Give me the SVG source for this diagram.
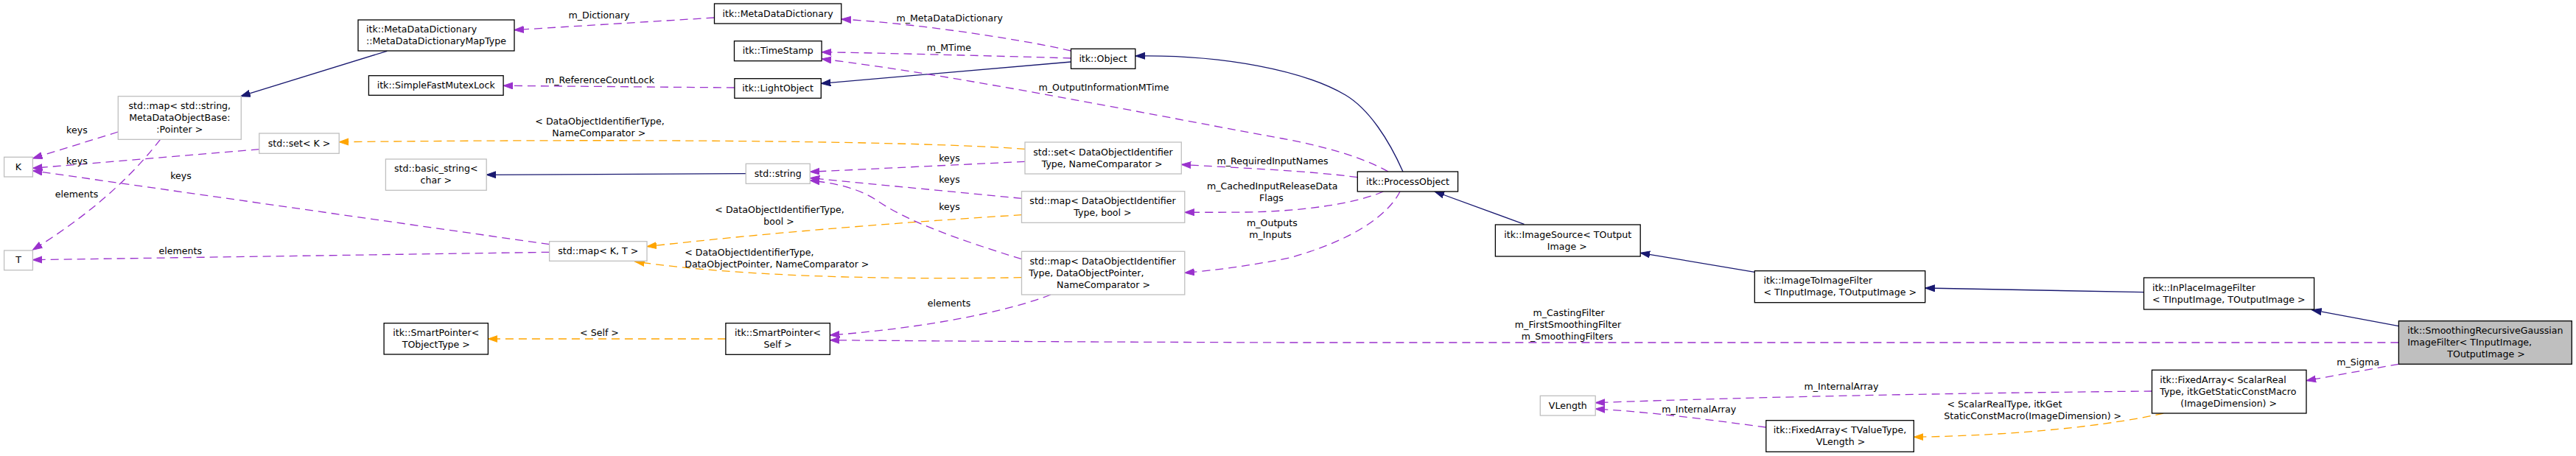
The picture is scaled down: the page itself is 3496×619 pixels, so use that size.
<svg xmlns="http://www.w3.org/2000/svg" width="3496" height="619" viewBox="0 0 3496 619">
<style>
text{font-family:"DejaVu Sans","Liberation Sans",sans-serif;font-size:12.6px;fill:#000}
.m{text-anchor:middle}
.s{text-anchor:start}
.doc{fill:#fff;stroke:#000;stroke-width:1.3}
.und{fill:#fff;stroke:#bfbfbf;stroke-width:1.3}
.cur{fill:#bfbfbf;stroke:#000;stroke-width:1.3}
.inh{fill:none;stroke:#191970;stroke-width:1.3;marker-end:url(#an)}
.use{fill:none;stroke:#9a32cd;stroke-width:1.3;stroke-dasharray:11,7;marker-end:url(#ap)}
.tpl{fill:none;stroke:#ffa500;stroke-width:1.3;stroke-dasharray:11,7;marker-end:url(#ao)}
</style>
<defs>
<marker id="an" markerUnits="userSpaceOnUse" markerWidth="16" markerHeight="12" refX="13" refY="5" orient="auto"><path d="M0,0.5 L13,5 L0,9.5 z" fill="#191970" stroke="#191970" stroke-width="1"/></marker>
<marker id="ap" markerUnits="userSpaceOnUse" markerWidth="16" markerHeight="12" refX="13" refY="5" orient="auto"><path d="M0,0.5 L13,5 L0,9.5 z" fill="#9a32cd" stroke="#9a32cd" stroke-width="1"/></marker>
<marker id="ao" markerUnits="userSpaceOnUse" markerWidth="16" markerHeight="12" refX="13" refY="5" orient="auto"><path d="M0,0.5 L13,5 L0,9.5 z" fill="#ffa500" stroke="#ffa500" stroke-width="1"/></marker>
</defs>
<rect width="3496" height="619" fill="#fff"/>
<g id="connectors">
<path class="inh" d="M525.3,69.3 L326.6,130.7"/>
<path class="inh" d="M1453.5,84 L1114.3,113.3"/>
<path class="inh" d="M1904,233 C1885,190 1858,148 1826,129 C1770,96 1660,74 1541,76"/>
<path class="inh" d="M2068.5,304.3 L1947,260"/>
<path class="inh" d="M2381.3,369.3 L2226.2,343.3"/>
<path class="inh" d="M2909.5,396.7 L2612.7,391"/>
<path class="inh" d="M3255.4,442.7 L3137.6,420.7"/>
<path class="inh" d="M1012.3,235.7 L660.2,237.3"/>

<path class="use" d="M969.5,24 L697.8,40.7"/>
<text class="m" x="813" y="25.2">m_Dictionary</text>
<path class="use" d="M1453.5,69 C1400,56 1250,32 1141.8,26"/>
<text class="m" x="1288.7" y="29.2">m_MetaDataDictionary</text>
<path class="use" d="M1453.5,79 C1350,76 1200,72 1115.1,70.7"/>
<text class="m" x="1287.8" y="69.2">m_MTime</text>
<path class="use" d="M1884,233 C1850,214 1800,199 1740,188 C1600,163 1300,102 1115.1,80"/>
<text class="m" x="1498" y="123.2">m_OutputInformationMTime</text>
<path class="use" d="M996.9,119 L683.1,116.3"/>
<text class="m" x="814" y="112.8">m_ReferenceCountLock</text>
<path class="use" d="M160.3,179 L44.4,215"/>
<text class="m" x="104.4" y="181.2">keys</text>
<path class="use" d="M351.8,202.7 L44.4,228.3"/>
<text class="m" x="104.4" y="223.2">keys</text>
<path class="use" d="M745.6,331.7 L44.4,231.7"/>
<text class="m" x="245.5" y="243.2">keys</text>
<path class="use" d="M217.5,189.3 C190,225 140,280 44.4,339.3"/>
<text class="m" x="104" y="267.8">elements</text>
<path class="use" d="M745.6,342.3 L44.4,352.7"/>
<text class="m" x="244.8" y="344.8">elements</text>
<path class="tpl" d="M1386.5,291.7 C1250,300 1050,315 878,334.7"/>
<text class="m" x="1058" y="289.2">&lt; DataObjectIdentifierType,</text>
<text class="m" x="1057" y="304.8">bool &gt;</text>
<path class="tpl" d="M1386.5,376.7 C1200,380 1000,375 861.5,355"/>
<text class="s" x="929.2" y="346.8">&lt; DataObjectIdentifierType,</text>
<text class="s" x="929.2" y="362.8">DataObjectPointer, NameComparator &gt;</text>
<path class="tpl" d="M1391,202.3 C1250,192 900,188 460.2,192.7"/>
<text class="m" x="814" y="169.2">&lt; DataObjectIdentifierType,</text>
<text class="m" x="812.8" y="185.2">NameComparator &gt;</text>
<path class="use" d="M1391,219.3 L1099.3,233.3"/>
<text class="m" x="1288.5" y="219.2">keys</text>
<path class="use" d="M1386.5,269.3 L1099.3,241.7"/>
<text class="m" x="1288.5" y="248.2">keys</text>
<path class="use" d="M1386.5,351.7 C1300,325 1230,300 1190,272 C1165,255 1130,248 1099.3,245"/>
<text class="m" x="1288.5" y="285.2">keys</text>
<path class="use" d="M1842.3,240.7 C1780,232 1680,228 1603.3,223.3"/>
<text class="m" x="1727" y="223.2">m_RequiredInputNames</text>
<path class="use" d="M1877.3,260 C1850,272 1800,282 1740,286 C1700,289 1650,288 1607.8,288.3"/>
<text class="m" x="1726.7" y="257.2">m_CachedInputReleaseData</text>
<text class="m" x="1725.4" y="273.2">Flags</text>
<path class="use" d="M1900,260 C1885,290 1840,325 1750,350 C1700,360 1650,367 1607.8,370.3"/>
<text class="m" x="1726.4" y="307.2">m_Outputs</text>
<text class="m" x="1724" y="323.2">m_Inputs</text>
<path class="use" d="M1426,400 C1370,422 1260,445 1126.4,455"/>
<text class="m" x="1288" y="416.2">elements</text>
<path class="use" d="M3255.4,465 L1750,465 Q1400,464 1126.4,461.7"/>
<text class="m" x="2129" y="429.2">m_CastingFilter</text>
<text class="m" x="2128" y="444.8">m_FirstSmoothingFilter</text>
<text class="m" x="2127" y="460.8">m_SmoothingFilters</text>
<path class="tpl" d="M984.9,460 L662.4,460"/>
<text class="m" x="813.5" y="455.5">&lt; Self &gt;</text>
<path class="use" d="M2920.5,531 C2700,533 2400,538 2165.2,546.7"/>
<text class="m" x="2499" y="528.8">m_InternalArray</text>
<path class="use" d="M2396.8,580 C2320,570 2250,560 2165.2,555"/>
<text class="m" x="2305.7" y="560.2">m_InternalArray</text>
<path class="tpl" d="M2936.1,561 C2860,578 2740,591 2597.3,593.3"/>
<text class="s" x="2642.5" y="552.8">&lt; ScalarRealType, itkGet</text>
<text class="s" x="2638.3" y="568.8">StaticConstMacro(ImageDimension) &gt;</text>
<path class="use" d="M3255.4,494.3 L3130,516.7"/>
<text class="m" x="3200.3" y="496.2">m_Sigma</text>
</g>

<g id="mapType"><rect class="doc" x="486" y="27" width="212" height="42"/>
<text class="s" x="497" y="44.2">itk::MetaDataDictionary</text><text class="s" x="497" y="60.2">::MetaDataDictionaryMapType</text></g>
<g id="mutex"><rect class="doc" x="500.4" y="102.7" width="182.7" height="26.6"/>
<text class="m" x="591.7" y="120.2">itk::SimpleFastMutexLock</text></g>
<g id="mapString"><rect class="und" x="160.3" y="130.7" width="167" height="58.6"/>
<text class="m" x="243.8" y="147.8">std::map&lt; std::string,</text><text class="m" x="243.8" y="164.2">MetaDataObjectBase:</text><text class="m" x="243.8" y="179.8">:Pointer &gt;</text></g>
<g id="setK"><rect class="und" x="351.8" y="181" width="108.4" height="27.3"/>
<text class="m" x="406" y="198.8">std::set&lt; K &gt;</text></g>
<g id="K"><rect class="und" x="5.6" y="213.3" width="38.8" height="26.7"/>
<text class="m" x="25" y="231.2">K</text></g>
<g id="basicString"><rect class="und" x="523.4" y="216" width="136.8" height="42.3"/>
<text class="m" x="591.8" y="233.2">std::basic_string&lt;</text><text class="m" x="591.8" y="248.8">char &gt;</text></g>
<g id="T"><rect class="und" x="5.6" y="340" width="38.8" height="26.7"/>
<text class="m" x="25" y="357.2">T</text></g>
<g id="spTObject"><rect class="doc" x="521.1" y="438.7" width="141.3" height="42.3"/>
<text class="m" x="591.8" y="456.2">itk::SmartPointer&lt;</text><text class="m" x="591.8" y="471.8">TObjectType &gt;</text></g>
<g id="metaDataDictionary"><rect class="doc" x="969.5" y="5" width="172.3" height="27"/>
<text class="m" x="1055.6" y="23.2">itk::MetaDataDictionary</text></g>
<g id="timeStamp"><rect class="doc" x="996.5" y="55.7" width="118.6" height="27"/>
<text class="m" x="1055.8" y="73.2">itk::TimeStamp</text></g>
<g id="lightObject"><rect class="doc" x="996.9" y="106.7" width="117.4" height="26.6"/>
<text class="m" x="1055.6" y="123.8">itk::LightObject</text></g>
<g id="stdString"><rect class="und" x="1012.3" y="222.3" width="87" height="27"/>
<text class="m" x="1055.8" y="240.2">std::string</text></g>
<g id="mapKT"><rect class="und" x="745.6" y="327.7" width="132.4" height="26.6"/>
<text class="m" x="811.8" y="344.8">std::map&lt; K, T &gt;</text></g>
<g id="spSelf"><rect class="doc" x="984.9" y="438.7" width="141.5" height="42.6"/>
<text class="m" x="1055.6" y="456.2">itk::SmartPointer&lt;</text><text class="m" x="1055.6" y="471.5">Self &gt;</text></g>
<g id="object"><rect class="doc" x="1453.5" y="66.3" width="87.3" height="27"/>
<text class="m" x="1497" y="84.2">itk::Object</text></g>
<g id="setDOIT"><rect class="und" x="1391" y="193" width="212.3" height="43"/>
<text class="m" x="1497" y="211.2">std::set&lt; DataObjectIdentifier</text><text class="m" x="1495.6" y="226.8">Type, NameComparator &gt;</text></g>
<g id="mapDOITbool"><rect class="und" x="1386.5" y="259.7" width="221.3" height="42.6"/>
<text class="m" x="1496.5" y="277.2">std::map&lt; DataObjectIdentifier</text><text class="m" x="1496.4" y="292.8">Type, bool &gt;</text></g>
<g id="mapDOP"><rect class="und" x="1386.5" y="341.3" width="221.3" height="58.7"/>
<text class="s" x="1397.4" y="358.8">std::map&lt; DataObjectIdentifier</text><text class="s" x="1396.3" y="374.8">Type, DataObjectPointer,</text><text class="m" x="1497.5" y="391.2">NameComparator &gt;</text></g>
<g id="processObject"><rect class="doc" x="1842.3" y="233" width="136.3" height="27"/>
<text class="m" x="1910.5" y="251.2">itk::ProcessObject</text></g>
<g id="imageSource"><rect class="doc" x="2029.4" y="305" width="196.8" height="43"/>
<text class="m" x="2127.8" y="323.2">itk::ImageSource&lt; TOutput</text><text class="m" x="2126.7" y="339.2">Image &gt;</text></g>
<g id="vlength"><rect class="und" x="2090.3" y="537.3" width="74.9" height="26.7"/>
<text class="m" x="2127.8" y="555.2">VLength</text></g>
<g id="imageToImage"><rect class="doc" x="2381.3" y="367.7" width="231.4" height="43"/>
<text class="s" x="2393.4" y="384.8">itk::ImageToImageFilter</text><text class="s" x="2393.4" y="401.2">&lt; TInputImage, TOutputImage &gt;</text></g>
<g id="fixedArrayTV"><rect class="doc" x="2396.8" y="570.7" width="200.5" height="42.6"/>
<text class="m" x="2497" y="587.8">itk::FixedArray&lt; TValueType,</text><text class="m" x="2498" y="603.8">VLength &gt;</text></g>
<g id="inPlace"><rect class="doc" x="2909.5" y="377" width="231.1" height="43"/>
<text class="s" x="2920.9" y="394.8">itk::InPlaceImageFilter</text><text class="s" x="2920.9" y="411.2">&lt; TInputImage, TOutputImage &gt;</text></g>
<g id="srg"><rect class="cur" x="3255.4" y="435.7" width="234.9" height="58.6"/>
<text class="s" x="3267.2" y="453.2">itk::SmoothingRecursiveGaussian</text><text class="s" x="3267.2" y="469.2">ImageFilter&lt; TInputImage,</text><text class="m" x="3374" y="485.2">TOutputImage &gt;</text></g>
<g id="fixedArraySR"><rect class="doc" x="2920.5" y="502.3" width="209.5" height="58.7"/>
<text class="s" x="2931.2" y="520.2">itk::FixedArray&lt; ScalarReal</text><text class="s" x="2931.2" y="535.8">Type, itkGetStaticConstMacro</text><text class="m" x="3024.7" y="551.8">(ImageDimension) &gt;</text></g>
</svg>
